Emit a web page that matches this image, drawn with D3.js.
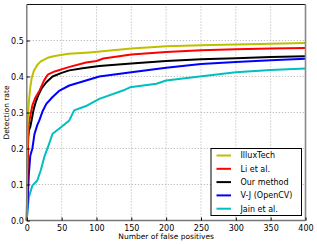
<!DOCTYPE html>
<html>
<head>
<meta charset="utf-8">
<script src="https://cdn.jsdelivr.net/npm/d3@7"></script>
<style>
  body { margin: 0; background: #fff; font-family: 'DejaVu Sans', sans-serif; }
  svg text { fill: #000; }
</style>
</head>
<body>
<div id="chart"></div>
<script>
const seriesNames = ['IlluxTech', 'Li et al.', 'Our method', 'V-J (OpenCV)', 'Jain et al.']
const seriesColors = ['#bfbf00', '#ff0000', '#000000', '#0000ff', '#00bfbf']

const illuxFp   = [0, 0.5, 1, 2, 3, 5, 7, 10, 15, 20, 30, 40, 60, 90, 120, 150, 200, 250, 300, 350, 400]
const illuxRate = [0, 0.2, 0.26, 0.3, 0.33, 0.37, 0.395, 0.415, 0.432, 0.442, 0.452, 0.457, 0.463, 0.467, 0.472, 0.478, 0.484, 0.487, 0.489, 0.491, 0.493]

const liFp   = [0, 1, 2, 3, 5, 8, 12, 18, 25, 30, 40, 60, 85, 100, 110, 150, 200, 250, 300, 350, 400]
const liRate = [0, 0.15, 0.24, 0.27, 0.29, 0.32, 0.34, 0.36, 0.39, 0.405, 0.414, 0.426, 0.439, 0.443, 0.45, 0.461, 0.468, 0.473, 0.476, 0.478, 0.479]

const oursFp   = [0, 1, 2, 3, 5, 7, 10, 13, 17, 21, 28, 37, 50, 61, 80, 104, 150, 200, 250, 300, 350, 400]
const oursRate = [0, 0.15, 0.23, 0.25, 0.26, 0.28, 0.31, 0.33, 0.35, 0.366, 0.384, 0.4, 0.41, 0.417, 0.423, 0.429, 0.436, 0.443, 0.448, 0.451, 0.454, 0.456]

const vjFp   = [0, 1, 2, 3, 5, 8, 11, 15, 18, 23, 28, 37, 47, 61, 85, 104, 150, 200, 250, 300, 350, 400]
const vjRate = [0, 0.04, 0.09, 0.13, 0.18, 0.2, 0.24, 0.265, 0.278, 0.305, 0.324, 0.343, 0.361, 0.375, 0.389, 0.4, 0.412, 0.424, 0.435, 0.44, 0.445, 0.449]

const jainFp   = [0, 1, 3, 8, 15, 20, 25, 32, 37, 49, 61, 68, 85, 104, 138, 148, 186, 200, 248, 300, 350, 400]
const jainRate = [0, 0.028, 0.065, 0.097, 0.111, 0.139, 0.176, 0.213, 0.241, 0.259, 0.278, 0.306, 0.318, 0.338, 0.361, 0.37, 0.38, 0.389, 0.4, 0.412, 0.418, 0.422]

const xTicks = [0, 50, 100, 150, 200, 250, 300, 350, 400]
const yTicks = [0.0, 0.1, 0.2, 0.3, 0.4, 0.5]

const allSeries = [
    [illuxFp, illuxRate],
    [liFp, liRate],
    [oursFp, oursRate],
    [vjFp, vjRate],
    [jainFp, jainRate]
].map(([fp, rate], i) => ({
    name: seriesNames[i],
    color: seriesColors[i],
    points: fp.map((f, j) => ({ fp: f, rate: rate[j] }))
}))

const width = 317
const height = 244
const margin = { top: 4.5, right: 11.5, bottom: 23.5, left: 26.8 }

const svg = d3.select('#chart').append('svg')
    .attr('width', width).attr('height', height)

const x = d3.scaleLinear().domain([0, 400]).range([margin.left, width - margin.right])
const y = d3.scaleLinear().domain([0, 0.6]).range([height - margin.bottom, margin.top])

// grid
const grid = svg.append('g')
    .attr('stroke', '#999').attr('stroke-width', 0.8)
    .attr('stroke-dasharray', '1,2')
grid.selectAll('.vgrid').data(xTicks.slice(1, -1)).join('line')
    .attr('x1', d => x(d)).attr('x2', d => x(d))
    .attr('y1', y(0)).attr('y2', y(0.6))
grid.selectAll('.hgrid').data(yTicks.slice(1)).join('line')
    .attr('x1', x(0)).attr('x2', x(400))
    .attr('y1', d => y(d)).attr('y2', d => y(d))

// curves
const line = d3.line().x(d => x(d.fp)).y(d => y(d.rate))
svg.append('g').selectAll('path')
    .data(allSeries.slice().reverse())
    .join('path')
    .attr('d', d => line(d.points))
    .attr('fill', 'none')
    .attr('stroke', d => d.color)
    .attr('stroke-width', 2)
    .attr('stroke-linejoin', 'round')

// frame
svg.append('line').attr('x1', x(0)).attr('x2', x(400)).attr('y1', y(0.6)).attr('y2', y(0.6))
    .attr('stroke', '#111').attr('stroke-width', 1)
svg.append('line').attr('x1', x(0)).attr('x2', x(0)).attr('y1', y(0.6)).attr('y2', y(0))
    .attr('stroke', '#777').attr('stroke-width', 1.4)
svg.append('line').attr('x1', x(400)).attr('x2', x(400)).attr('y1', y(0.6)).attr('y2', y(0))
    .attr('stroke', '#888').attr('stroke-width', 1.6)
svg.append('line').attr('x1', x(0)).attr('x2', x(400)).attr('y1', y(0)).attr('y2', y(0))
    .attr('stroke', '#777').attr('stroke-width', 1.4)

// axes
const xAxis = svg.append('g')
    .attr('transform', `translate(0,${y(0)})`)
    .call(d3.axisBottom(x).tickValues(xTicks).tickSize(-3).tickPadding(5))
const yAxis = svg.append('g')
    .attr('transform', `translate(${x(0)},0)`)
    .call(d3.axisLeft(y).tickValues(yTicks).tickFormat(d3.format('.1f')).tickSize(-3).tickPadding(3))
;[xAxis, yAxis].forEach(a => {
    a.select('.domain').remove()
    a.selectAll('.tick line').attr('stroke', '#000')
    a.selectAll('.tick text').attr('font-size', 8).attr('font-family', 'DejaVu Sans')
})

svg.append('text')
    .attr('x', (x(0) + x(400)) / 2).attr('y', 239)
    .attr('text-anchor', 'middle').attr('font-size', 7.5)
    .text('Number of false positives')
svg.append('text')
    .attr('transform', `translate(9,${(y(0) + y(0.6)) / 2}) rotate(-90)`)
    .attr('text-anchor', 'middle').attr('font-size', 7.5)
    .text('Detection rate')

// legend
const legend = svg.append('g').attr('transform', 'translate(211,148.5)')
legend.append('rect')
    .attr('width', 90.5).attr('height', 67)
    .attr('fill', '#fff').attr('stroke', '#000').attr('stroke-width', 1)
const items = legend.selectAll('.item').data(allSeries).join('g')
    .attr('transform', (d, i) => `translate(0,${7 + i * 13.3})`)
items.append('line')
    .attr('x1', 5.5).attr('x2', 20)
    .attr('stroke', d => d.color).attr('stroke-width', 2)
items.append('text')
    .attr('x', 29.5).attr('dy', '0.35em')
    .attr('font-size', 8)
    .text(d => d.name)
</script>
</body>
</html>
